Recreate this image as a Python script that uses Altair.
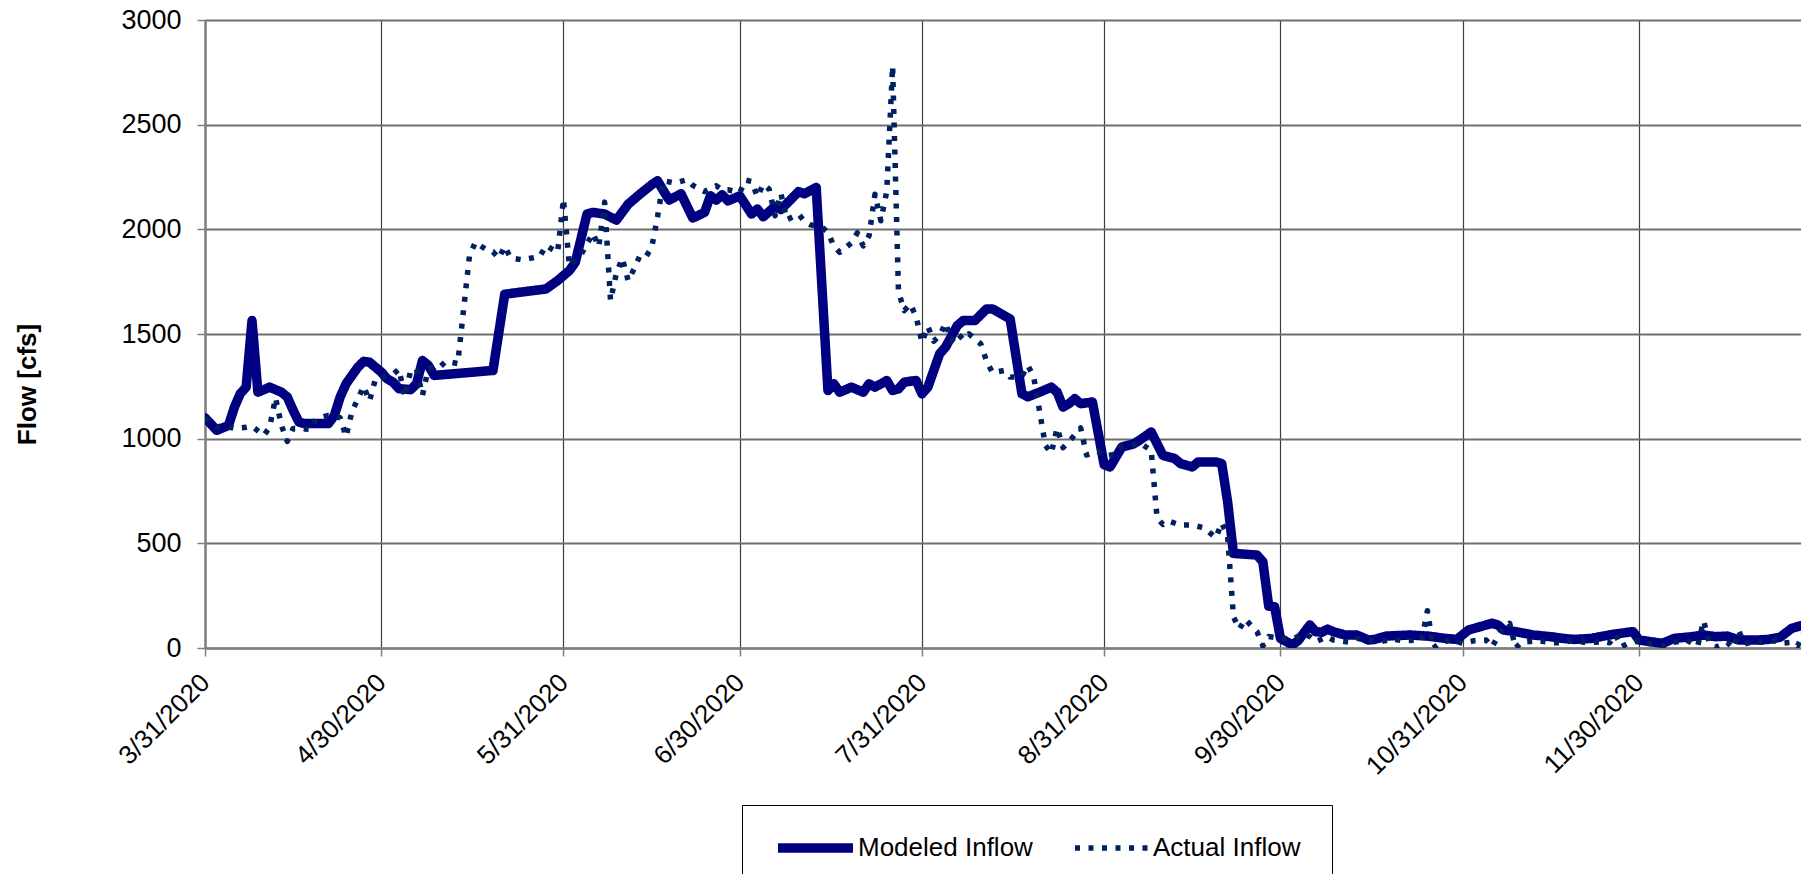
import altair as alt
import pandas as pd

START = "2020-03-31"

# Modeled Inflow: day offset from 3/31/2020 and flow [cfs]
modeled_day = [0, 2, 4, 5, 6, 7, 8, 9, 11, 13, 14, 15, 16, 17, 21, 22, 23, 24, 26, 27, 28, 30, 31, 32, 33,
               35, 36, 37, 38, 39, 49, 51, 58, 60, 62, 63, 65, 66, 68, 70, 72, 74, 76, 77, 78, 79, 81, 83,
               85, 86, 87, 88, 89, 91, 93, 94, 95, 97, 98, 101, 102, 104, 106, 107, 108, 110, 112, 113,
               114, 116, 117, 118, 119, 121, 122, 123, 125, 126, 128, 129, 131, 133, 134, 136, 137, 139,
               140, 142, 144, 145, 146, 147, 148, 149, 151, 153, 154, 155, 156, 158, 159, 161, 162, 163,
               165, 166, 168, 169, 172, 173, 174, 175, 179, 180, 181, 182, 183, 185, 186, 188, 189, 190,
               191, 192, 194, 196, 198, 199, 201, 205, 208, 211, 213, 215, 217, 219, 220, 221, 223, 226,
               229, 231, 233, 236, 238, 240, 243, 244, 246, 248, 250, 253, 255, 257, 259, 261, 264, 266,
               268, 270, 272, 273]
modeled_flow = [1100, 1040, 1063, 1150, 1215, 1246, 1564, 1222, 1246, 1222, 1199, 1135, 1079, 1072, 1072,
                1110, 1199, 1262, 1341, 1369, 1365, 1318, 1286, 1270, 1239, 1234, 1262, 1373, 1350, 1302,
                1326, 1690, 1715, 1755, 1803, 1842, 2073, 2081, 2073, 2044, 2120, 2168, 2213, 2232, 2184,
                2140, 2170, 2054, 2081, 2160, 2140, 2165, 2136, 2160, 2073, 2097, 2060, 2110, 2095, 2180,
                2170, 2200, 1230, 1262, 1222, 1246, 1222, 1262, 1246, 1278, 1230, 1238, 1270, 1278, 1214,
                1246, 1405, 1437, 1540, 1564, 1564, 1620, 1620, 1588, 1572, 1215, 1200, 1222, 1246, 1222,
                1151, 1167, 1191, 1167, 1175, 875, 865, 912, 960, 975, 992, 1032, 976, 920, 905, 881, 865,
                889, 889, 881, 700, 452, 444, 412, 200, 197, 46, 15, 35, 110, 78, 75, 90, 78, 62, 62, 38,
                41, 57, 62, 57, 46, 41, 86, 102, 118, 110, 86, 78, 62, 54, 46, 41, 46, 57, 67, 78, 38, 30,
                22, 46, 54, 62, 54, 57, 38, 38, 41, 51, 94, 110, 112]

# Actual Inflow: day offset from 3/31/2020 and flow [cfs]
actual_day = [0, 2, 3, 5, 7, 8, 10, 11, 12, 13, 14, 15, 17, 18, 19, 21, 23, 24, 25, 26, 27, 28, 29, 31,
              32, 33, 34, 35, 36, 37, 38, 39, 40, 41, 43, 44, 45, 46, 47, 48, 49, 50, 51, 52, 54, 57, 58,
              59, 60, 61, 62, 63, 64, 65, 66, 67, 68, 69, 70, 71, 72, 73, 74, 75, 76, 77, 78, 80, 82, 83,
              85, 87, 88, 89, 91, 92, 93, 94, 95, 96, 97, 98, 99, 101, 102, 103, 105, 106, 107, 108, 110,
              111, 112, 113, 114, 115, 116, 117, 118, 119, 120, 121, 122, 123, 124, 125, 126, 127, 128,
              129, 130, 132, 133, 134, 136, 137, 139, 140, 141, 143, 144, 145, 146, 147, 148, 149, 150,
              152, 153, 155, 156, 158, 159, 161, 162, 163, 164, 166, 168, 170, 172, 173, 174, 175, 176,
              177, 178, 179, 180, 181, 183, 185, 187, 188, 189, 191, 192, 195, 196, 198, 200, 202, 204,
              206, 207, 208, 209, 210, 212, 214, 216, 218, 219, 221, 222, 223, 224, 227, 229, 231, 233,
              235, 238, 239, 240, 241, 242, 243, 244, 245, 247, 248, 250, 252, 254, 255, 256, 257, 259,
              260, 261, 262, 263, 265, 267, 268, 270, 271, 272, 273]
actual_flow = [1100, 1056, 1062, 1049, 1054, 1059, 1016, 1054, 1195, 1064, 987, 1049, 1046, 1044, 1098,
               1111, 1100, 1010, 1129, 1189, 1250, 1180, 1285, 1300, 1307, 1332, 1200, 1326, 1331, 1207,
               1334, 1346, 1343, 1370, 1359, 1617, 1874, 1938, 1919, 1900, 1893, 1862, 1919, 1863, 1854,
               1871, 1923, 1906, 1890, 2145, 1825, 1850, 1880, 1930, 1981, 1917, 2130, 1660, 1790, 1862,
               1755, 1811, 1874, 1869, 1911, 2060, 2232, 2221, 2237, 2210, 2181, 2208, 2189, 2189, 2176,
               2235, 2229, 2156, 2216, 2192, 2065, 2171, 2046, 2073, 2038, 2022, 2009, 1985, 1920, 1890,
               1935, 1983, 1921, 1970, 2168, 2041, 2181, 2780, 1700, 1612, 1644, 1583, 1461, 1536, 1466,
               1491, 1552, 1466, 1504, 1474, 1501, 1453, 1370, 1315, 1326, 1294, 1297, 1350, 1297, 968,
               930, 1051, 957, 985, 1019, 1051, 922, 940, 916, 927, 965, 971, 982, 943, 622, 590, 606,
               587, 587, 574, 526, 598, 536, 149, 91, 138, 107, 78, 10, 55, 46, 41, 70, 54, 30, 54, 38,
               27, 46, 38, 30, 43, 35, 38, 35, 178, 0, 20, 41, 22, 35, 38, 5, 105, 118, 0, 27, 35, 25,
               25, 38, 25, 30, 25, 65, 6, 20, 27, 35, 22, 19, 10, 27, 38, 10, 130, 22, 3, 27, 0, 80, 19,
               27, 27, 35, 22, 27, 10, 70, 46]

series_names = ["Modeled Inflow", "Actual Inflow"]
series_colors = ["#000080", "#002060"]
series_widths = [9.5, 5.5]
series_dashes = [[1, 0], [5, 8.5]]
tick_dates = [(2020, 3, 31), (2020, 4, 30), (2020, 5, 31), (2020, 6, 30), (2020, 7, 31),
              (2020, 8, 31), (2020, 9, 30), (2020, 10, 31), (2020, 11, 30)]
y_ticks = [0, 500, 1000, 1500, 2000, 2500, 3000]

start = pd.Timestamp(START)


def frame(days, flows, name):
    return pd.DataFrame({
        "date": [(start + pd.Timedelta(days=d)).strftime("%Y-%m-%d") for d in days],
        "flow": flows,
        "series": name,
    })


df = pd.concat([frame(modeled_day, modeled_flow, series_names[0]),
                frame(actual_day, actual_flow, series_names[1])], ignore_index=True)

FONT = "Liberation Sans"

legend_def = alt.Legend(
    title=None, orient="none", legendX=537, legendY=785, direction="horizontal",
    symbolType="stroke", symbolSize=5625, clipHeight=24, labelFontSize=26, labelFont=FONT,
    labelColor="black", labelLimit=400, labelOffset=0, columnPadding=39, padding=31,
    strokeColor="black",
)

x_enc = alt.X(
    "date:T",
    scale=alt.Scale(type="utc", nice=False,
                    domain=[alt.DateTime(year=2020, month=3, date=31, utc=True),
                            alt.DateTime(year=2020, month=12, date=27, hours=13, minutes=40, utc=True)]),
    axis=alt.Axis(
        values=[alt.DateTime(year=y, month=m, date=d, utc=True) for (y, m, d) in tick_dates],
        labelExpr="utcFormat(datum.value, '%-m/%-d/%Y')",
        labelAngle=315, labelAlign="right", labelBaseline="middle", labelPadding=22,
        labelFontSize=26, labelFont=FONT, labelColor="black", labelFlush=False,
        labelOverlap=False, tickSize=8, tickColor="#808080", tickWidth=1.5,
        domainColor="#808080", domainWidth=2.5, gridColor="#3c3c3c", gridWidth=1.2, title=None,
    ),
)
y_enc = alt.Y(
    "flow:Q",
    scale=alt.Scale(domain=[0, 3000], nice=False),
    axis=alt.Axis(
        values=y_ticks, format="d", title="Flow [cfs]", titleFont=FONT, titleFontSize=26,
        titleFontWeight="bold", titleColor="black", titleAngle=270, titleAlign="center",
        titleBaseline="middle", titleX=-178, titleY=364,
        labelFontSize=27, labelFont=FONT, labelColor="black", labelPadding=16,
        tickSize=8, tickColor="#808080", tickWidth=1.5,
        domainColor="#808080", domainWidth=2.5, gridColor="#6e6e6e", gridWidth=1.8,
    ),
)
color_enc = alt.Color("series:N", scale=alt.Scale(domain=series_names, range=series_colors),
                      legend=legend_def)
dash_enc = alt.StrokeDash("series:N", scale=alt.Scale(domain=series_names, range=series_dashes),
                          legend=legend_def)
width_enc = alt.StrokeWidth("series:N",
                            scale=alt.Scale(type="ordinal", domain=series_names, range=series_widths),
                            legend=legend_def)

base = alt.Chart(df).encode(x=x_enc, y=y_enc, color=color_enc, strokeDash=dash_enc, strokeWidth=width_enc)

modeled = base.transform_filter(alt.datum.series == series_names[0]).mark_line(
    clip=True, strokeCap="round", strokeJoin="round")
actual = base.transform_filter(alt.datum.series == series_names[1]).mark_line(
    clip=True, strokeCap="butt", strokeJoin="round")

chart = alt.layer(modeled, actual).properties(
    width=1596, height=628,
    padding={"left": 197, "top": 12, "right": 0, "bottom": 226},
    autosize=alt.AutoSizeParams(type="none"),
    background="white",
).configure_view(strokeWidth=0).configure(font=FONT)

chart.save("out.html", embed_options={"renderer": "svg", "actions": False})
